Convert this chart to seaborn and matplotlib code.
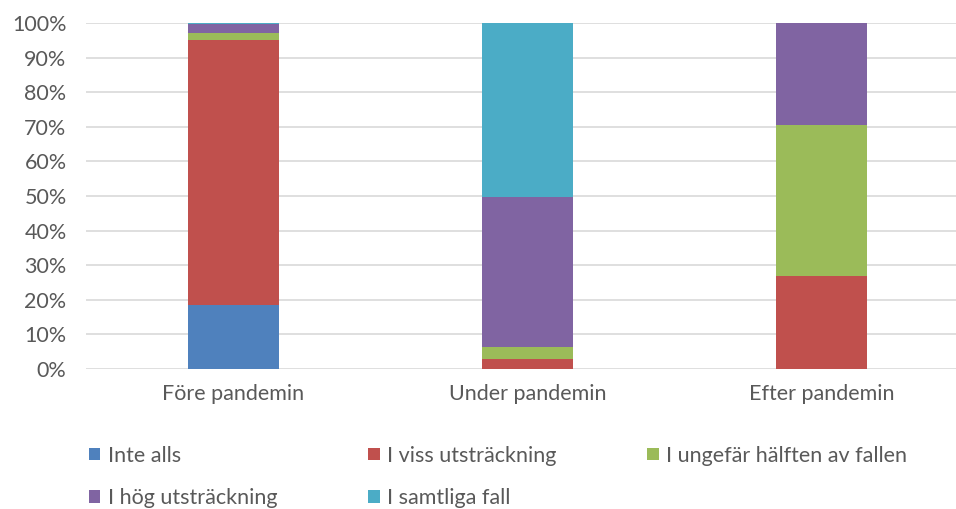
import numpy as np
import pandas as pd
import matplotlib
matplotlib.use('Agg')
import matplotlib.pyplot as plt
import seaborn as sns
from matplotlib.patches import Patch

# Data (percent of answers per period)
periods = ['Före pandemin', 'Under pandemin', 'Efter pandemin']
series = ['Inte alls', 'I viss utsträckning', 'I ungefär hälften av fallen',
          'I hög utsträckning', 'I samtliga fall']
inte_alls = [18.5, 0.0, 0.0]
viss = [76.6, 2.8, 26.9]
halften = [1.9, 3.6, 43.6]
hog = [2.7, 43.2, 29.5]
samtliga = [0.3, 50.4, 0.0]
colors = ['#4F81BD', '#C0504D', '#9BBB59', '#8064A2', '#4BACC6']

sns.set_style('white')
plt.rcParams['font.family'] = ['Lato', 'DejaVu Sans']
text_col = '#595959'

fig = plt.figure(figsize=(9.56, 5.09), dpi=100)
ax = fig.add_axes([86 / 956, 140 / 509, 883 / 956, 346 / 509])

cum = np.zeros(len(periods))
for name, vals, c in zip(series, [inte_alls, viss, halften, hog, samtliga], colors):
    df = pd.DataFrame({'period': periods, 'value': vals})
    sns.barplot(data=df, x='period', y='value', color=c, width=0.31,
                bottom=cum, errorbar=None, ax=ax, linewidth=0, saturation=1)
    cum = cum + np.array(vals)

ax.set_ylim(0, 100)
ax.set_xlim(-0.5, 2.5)
ax.set_yticks(np.arange(0, 101, 10))
ax.set_yticklabels([f'{v}%' for v in range(0, 101, 10)])
ax.yaxis.grid(True, color='#D9D9D9', linewidth=1.2)
ax.set_axisbelow(True)
for s in ax.spines.values():
    s.set_visible(False)
ax.tick_params(axis='y', length=0, pad=14, labelsize=15.5, labelcolor=text_col)
ax.tick_params(axis='x', length=0, pad=11, labelsize=15.5, labelcolor=text_col)
ax.set_xlabel('')
ax.set_ylabel('')

handles = [Patch(facecolor=c, edgecolor='none') for c in colors]
order = [0, 3, 1, 4, 2]
fig.legend([handles[i] for i in order], [series[i] for i in order],
           ncol=3, loc='upper left', bbox_to_anchor=(80 / 956, 1 - 437 / 509),
           frameon=False, fontsize=15.5, labelcolor=text_col,
           handlelength=0.55, handleheight=0.55, handletextpad=0.35,
           columnspacing=4.2, labelspacing=1.05, borderaxespad=0)

fig.savefig('out.png', dpi=100)
